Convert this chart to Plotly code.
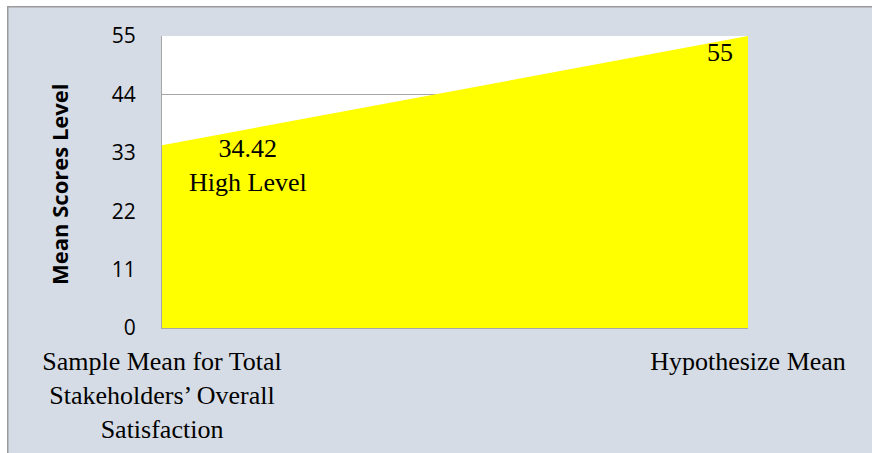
import plotly.graph_objects as go

# ---- data ----
categories = ["Sample Mean for Total<br>Stakeholders’ Overall<br>Satisfaction", "Hypothesize Mean"]
mean_scores = [34.42, 55]
point_labels = ["34.42<br>High Level", "55"]
y_ticks = [0, 11, 22, 33, 44, 55]
y_title = "Mean Scores Level"

# ---- layout geometry ----
W, H = 872, 453
L, R, T, B = 162, 124, 36, 125
PW, PH = W - L - R, H - T - B


def px2x(px):
    return (px - L) / PW


def py2y(py):
    return (H - B - py) / PH


x_pos = list(range(len(categories)))
YELLOW = "#FFFF00"
GRID = "#A6A6A6"
SERIF = "Liberation Serif, Times New Roman, serif"
SANS = "Open Sans, Liberation Sans, sans-serif"

fig = go.Figure(
    go.Scatter(
        x=x_pos, y=mean_scores, mode="lines",
        line=dict(width=0, color=YELLOW),
        fill="tozeroy", fillcolor=YELLOW,
        hoverinfo="skip", showlegend=False,
    )
)

# data labels
label_shift = [(86, -20), (-28, -16)]
for i, txt in enumerate(point_labels):
    fig.add_annotation(
        x=x_pos[i], y=mean_scores[i], xref="x", yref="y",
        text=txt, showarrow=False,
        xshift=label_shift[i][0], yshift=label_shift[i][1],
        xanchor="center", yanchor="middle",
        font=dict(family=SERIF, size=26, color="black"),
    )

# y axis title
fig.add_annotation(
    x=px2x(59), y=py2y(184), xref="paper", yref="paper",
    text="<b>" + y_title + "</b>", textangle=-90, showarrow=False,
    xanchor="center", yanchor="middle",
    font=dict(family=SANS, size=22, color="black"),
)

# outer frame: white strips at top/left and grey border lines
shapes = [
    dict(type="rect", xref="paper", yref="paper", x0=px2x(-20), x1=px2x(W + 20),
         y0=py2y(6), y1=py2y(-20), fillcolor="white", line=dict(width=0), layer="below"),
    dict(type="rect", xref="paper", yref="paper", x0=px2x(-20), x1=px2x(7),
         y0=py2y(H + 20), y1=py2y(-20), fillcolor="white", line=dict(width=0), layer="below"),
    dict(type="line", xref="paper", yref="paper", x0=px2x(7), x1=px2x(W + 20),
         y0=py2y(6.75), y1=py2y(6.75), line=dict(color="#9A9A9A", width=1.5)),
    dict(type="line", xref="paper", yref="paper", x0=px2x(7.75), x1=px2x(7.75),
         y0=py2y(6), y1=py2y(H + 20), line=dict(color="#9A9A9A", width=1.5)),
]

fig.update_layout(
    width=W, height=H,
    margin=dict(l=L, r=R, t=T, b=B, autoexpand=False),
    paper_bgcolor="#D6DCE5",
    plot_bgcolor="white",
    shapes=shapes,
    showlegend=False,
    hovermode=False,
    xaxis=dict(
        range=[0, 1], tickvals=x_pos, ticktext=categories,
        showgrid=False, zeroline=False, showline=True, linecolor=GRID, linewidth=1,
        ticks="", ticklabelstandoff=10, automargin=False,
        tickfont=dict(family=SERIF, size=26, color="black"),
    ),
    yaxis=dict(
        range=[0, 55], tickvals=y_ticks,
        showgrid=True, gridcolor=GRID, gridwidth=1, zeroline=False,
        showline=True, linecolor=GRID, linewidth=1,
        ticks="", ticklabelstandoff=21, automargin=False,
        tickfont=dict(family=SANS, size=21, color="black"),
    ),
)

fig.write_html(
    "out.html",
    config={"displayModeBar": False},
    post_script=(
        "document.body.style.margin='0';"
        "document.documentElement.style.overflow='hidden';"
        "document.body.style.overflow='hidden';"
    ),
)
